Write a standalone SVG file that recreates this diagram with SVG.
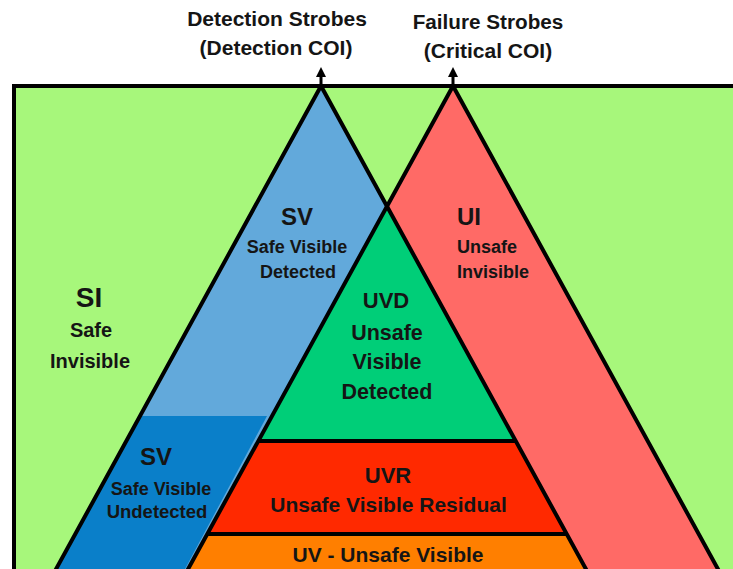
<svg xmlns="http://www.w3.org/2000/svg" width="733" height="569" viewBox="0 0 733 569">
  <style>
    text { font-family: "Liberation Sans", Arial, sans-serif; font-weight: bold; fill: #151515; text-anchor: middle; }
    .edge { fill: none; stroke: #000; stroke-width: 4; stroke-linejoin: miter; stroke-miterlimit: 10; }
    .conn { stroke: #000; stroke-width: 3; fill: none; }
    .head { fill: #000; }
  </style>
  <rect x="0" y="0" width="733" height="569" fill="#ffffff"/>

  <g id="SI">
    <rect x="14" y="86" width="725" height="490" fill="#A7F77B"/>
    <text x="89" y="307" font-size="28">SI</text>
    <text x="91" y="337" font-size="20">Safe</text>
    <text x="90" y="368" font-size="20">Invisible</text>
  </g>

  <g id="SV-detected">
    <polygon points="321,86 55,569 587,569" fill="#62A9DB"/>
    <text x="297" y="225" font-size="24">SV</text>
    <text x="297" y="253" font-size="18">Safe Visible</text>
    <text x="298" y="278" font-size="18">Detected</text>
  </g>

  <g id="SV-undetected">
    <polygon points="140,416 267,416 185,569 55,569" fill="#0A7FC9"/>
    <text x="156" y="465" font-size="24">SV</text>
    <text x="161" y="495" font-size="18">Safe Visible</text>
    <text x="157" y="518" font-size="18.5">Undetected</text>
  </g>

  <g id="UI">
    <polygon points="453,86 187,569 719,569" fill="#FF6A66"/>
    <text x="457" y="225" font-size="24" text-anchor="start" style="text-anchor:start">UI</text>
    <text x="457" y="253" font-size="18" style="text-anchor:start">Unsafe</text>
    <text x="457" y="278" font-size="18" style="text-anchor:start">Invisible</text>
  </g>

  <g id="UVD">
    <polygon points="387,206 257.75,441 516.25,441" fill="#00CE78"/>
    <text x="386" y="308" font-size="22">UVD</text>
    <text x="387" y="340" font-size="21.5">Unsafe</text>
    <text x="387" y="369" font-size="21.5">Visible</text>
    <text x="387" y="399" font-size="21.5">Detected</text>
  </g>

  <g id="UVR">
    <polygon points="257.75,441 516.25,441 567.4,534 206.6,534" fill="#FF2900"/>
    <text x="388" y="483" font-size="22">UVR</text>
    <text x="388.5" y="512" font-size="21">Unsafe Visible Residual</text>
  </g>

  <g id="UV">
    <polygon points="206.6,534 567.4,534 587,569 187,569" fill="#FF7F00"/>
    <text x="388" y="562" font-size="21">UV - Unsafe Visible</text>
  </g>

  <g id="outlines">
    <polyline class="edge" points="14,571 14,86 735,86"/>
    <polyline class="edge" points="55,571 321,86 587,571"/>
    <polyline class="edge" points="187,571 453,86 719,571"/>
    <line class="edge" x1="257.75" y1="441" x2="516.25" y2="441"/>
    <line class="edge" x1="206.6" y1="534" x2="567.4" y2="534"/>
  </g>

  <g id="connectors">
    <line class="conn" x1="321" y1="86" x2="321" y2="74"/>
    <polygon class="head" points="316,77 321,67 326,77"/>
    <line class="conn" x1="453" y1="86" x2="453" y2="74"/>
    <polygon class="head" points="448,77 453,67 458,77"/>
  </g>

  <g id="detection-strobes">
    <text x="277" y="26" font-size="21">Detection Strobes</text>
    <text x="276" y="55" font-size="21">(Detection COI)</text>
  </g>

  <g id="failure-strobes">
    <text x="488" y="29" font-size="20.7">Failure Strobes</text>
    <text x="488" y="58" font-size="21">(Critical COI)</text>
  </g>
</svg>
